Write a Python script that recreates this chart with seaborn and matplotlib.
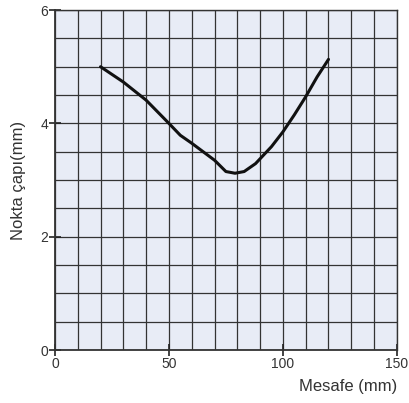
import numpy as np
import pandas as pd
import matplotlib
matplotlib.use("Agg")
import matplotlib.pyplot as plt
import seaborn as sns

distance_mm = [20, 30, 40, 50, 55, 60, 70, 75, 79, 83, 88, 95, 100, 105, 110, 115, 120]
spot_diameter_mm = [5.0, 4.73, 4.41, 4.0, 3.79, 3.65, 3.35, 3.15, 3.12, 3.15, 3.29, 3.59, 3.85, 4.15, 4.47, 4.82, 5.13]
x_ticks = [0, 50, 100, 150]
y_ticks = [0, 2, 4, 6]

df = pd.DataFrame({"x": distance_mm, "y": spot_diameter_mm})

sns.set_style("white")
plt.rcParams["font.family"] = ["Liberation Sans", "DejaVu Sans"]

fig = plt.figure(figsize=(4.10, 4.03), dpi=100)
ax = fig.add_axes([0.134, 0.1315, 0.834, 0.8435])
ax.set_facecolor("#e8ecf6")

sns.lineplot(data=df, x="x", y="y", ax=ax, color="#111111", linewidth=2.2, zorder=5)

ax.set_xlim(0, 150)
ax.set_ylim(0, 6)
ax.set_xticks(x_ticks)
ax.set_yticks(y_ticks)
ax.set_xticks(np.arange(0, 151, 10), minor=True)
ax.set_yticks(np.arange(0, 6.01, 0.5), minor=True)
ax.grid(which="minor", color="#333333", linewidth=0.9)
ax.grid(which="major", color="#333333", linewidth=0.9)
ax.tick_params(which="minor", length=0)
ax.tick_params(which="major", bottom=True, left=True, direction="inout", length=8, width=1.2,
               color="#222222", labelsize=10, labelcolor="#333333", pad=1)
for s in ax.spines.values():
    s.set_color("#333333")
    s.set_linewidth(1.0)
ax.spines["left"].set_linewidth(1.3)
ax.spines["bottom"].set_linewidth(1.3)

ax.set_xlabel("Mesafe (mm)", fontsize=12, color="#333333", loc="right", labelpad=6)
ax.set_ylabel("Nokta çapı(mm)", fontsize=12, color="#333333", labelpad=10)

fig.savefig("out.png", dpi=100)
